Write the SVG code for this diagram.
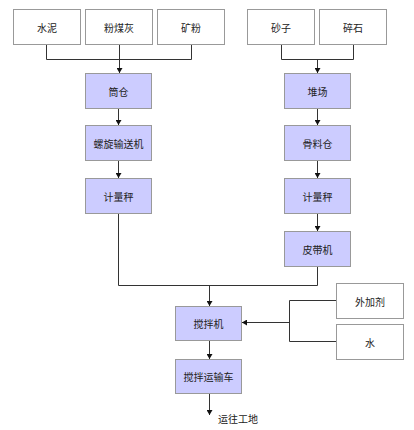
<svg xmlns="http://www.w3.org/2000/svg" width="414" height="430" viewBox="0 0 414 430">
<style>
.src rect{fill:#ffffff;stroke:#999999;stroke-width:1}
.proc rect{fill:#ccccff;stroke:#999999;stroke-width:1}
text{font-family:"Noto Sans CJK SC","Liberation Sans",sans-serif;font-size:10px;fill:#222222;text-anchor:middle;dominant-baseline:central}
.conn path{fill:none;stroke:#333333;stroke-width:1}
</style>
<defs>
<marker id="ah" markerWidth="6" markerHeight="6" refX="5" refY="3" orient="auto" markerUnits="userSpaceOnUse">
<path d="M0,0 L5,3 L0,6 Z" fill="#111111"/>
</marker>
</defs>
<rect width="414" height="430" fill="#ffffff"/>
<g class="conn">
<path d="M46.5,44 V59.5 H191.5 V44"/>
<path d="M119.5,44 V73" marker-end="url(#ah)"/>
<path d="M281.5,44 V59.5 H353.5 V44"/>
<path d="M317.5,59.5 V73" marker-end="url(#ah)"/>
<path d="M118.5,108 V125" marker-end="url(#ah)"/>
<path d="M118.5,161 V178" marker-end="url(#ah)"/>
<path d="M317.5,108 V125" marker-end="url(#ah)"/>
<path d="M317.5,161 V178" marker-end="url(#ah)"/>
<path d="M317.5,213 V231" marker-end="url(#ah)"/>
<path d="M118.5,213 V285.5 H317.5 V266"/>
<path d="M209.5,285.5 V306" marker-end="url(#ah)"/>
<path d="M336,300.5 H289.5 V341.5 H336"/>
<path d="M289.5,322.5 H242" marker-end="url(#ah)"/>
<path d="M209.5,340 V359" marker-end="url(#ah)"/>
<path d="M209.5,393 V415" marker-end="url(#ah)"/>
</g>
<g id="n-shuini" class="src"><rect x="13.5" y="9.5" width="67" height="35"/><text x="47" y="27">水泥</text></g>
<g id="n-fenmeihui" class="src"><rect x="85.5" y="9.5" width="67" height="35"/><text x="119" y="27">粉煤灰</text></g>
<g id="n-kuangfen" class="src"><rect x="157.5" y="9.5" width="67" height="35"/><text x="191" y="27">矿粉</text></g>
<g id="n-shazi" class="src"><rect x="247.5" y="9.5" width="67" height="35"/><text x="281" y="27">砂子</text></g>
<g id="n-suishi" class="src"><rect x="319.5" y="9.5" width="67" height="35"/><text x="353" y="27">碎石</text></g>
<g id="n-tongcang" class="proc"><rect x="85.5" y="73.5" width="66" height="35"/><text x="118.5" y="91">筒仓</text></g>
<g id="n-duichang" class="proc"><rect x="284.5" y="73.5" width="66" height="35"/><text x="317.5" y="91">堆场</text></g>
<g id="n-luoxuan" class="proc"><rect x="85.5" y="125.5" width="66" height="35"/><text x="118.5" y="143">螺旋输送机</text></g>
<g id="n-guliaocang" class="proc"><rect x="284.5" y="125.5" width="66" height="35"/><text x="317.5" y="143">骨料仓</text></g>
<g id="n-jiliang1" class="proc"><rect x="85.5" y="178.5" width="66" height="35"/><text x="118.5" y="196">计量秤</text></g>
<g id="n-jiliang2" class="proc"><rect x="284.5" y="178.5" width="66" height="35"/><text x="317.5" y="196">计量秤</text></g>
<g id="n-pidai" class="proc"><rect x="284.5" y="231.5" width="66" height="35"/><text x="317.5" y="249">皮带机</text></g>
<g id="n-jiaoban" class="proc"><rect x="175.5" y="306.5" width="66" height="34"/><text x="208.5" y="323.5">搅拌机</text></g>
<g id="n-waijiaji" class="src"><rect x="336.5" y="283.5" width="67" height="35"/><text x="370" y="301">外加剂</text></g>
<g id="n-shui" class="src"><rect x="336.5" y="324.5" width="67" height="35"/><text x="370" y="342">水</text></g>
<g id="n-yunshuche" class="proc"><rect x="175.5" y="359.5" width="66" height="34"/><text x="208.5" y="376.5">搅拌运输车</text></g>
<text x="218" y="418" style="text-anchor:start">运往工地</text>
</svg>
